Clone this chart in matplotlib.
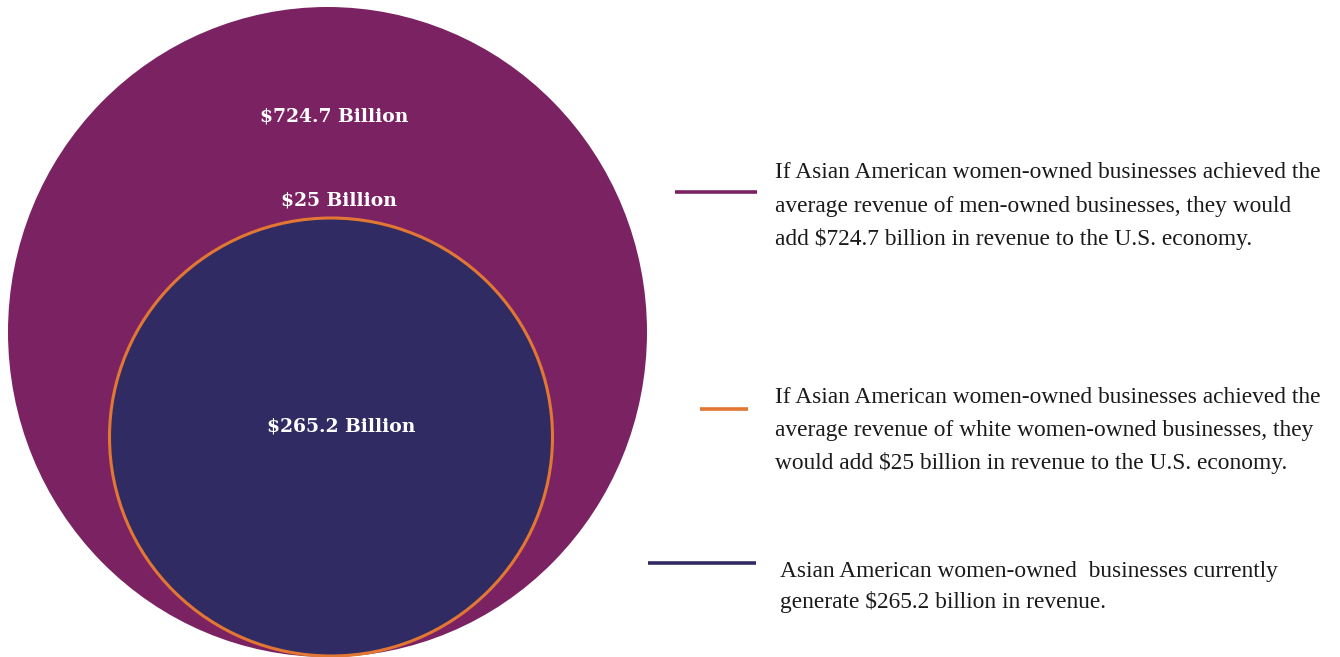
import matplotlib
matplotlib.use("Agg")
import matplotlib.pyplot as plt
from matplotlib.patches import Ellipse

# Data
series_names = ["Men-owned parity", "White women-owned parity", "Current revenue"]
values_billion = [724.7, 25, 265.2]
circle_labels = ["$724.7 Billion", "$25 Billion", "$265.2 Billion"]
descriptions = [
    ["If Asian American women-owned businesses achieved the",
     "average revenue of men-owned businesses, they would",
     "add $724.7 billion in revenue to the U.S. economy."],
    ["If Asian American women-owned businesses achieved the",
     "average revenue of white women-owned businesses, they",
     "would add $25 billion in revenue to the U.S. economy."],
    ["Asian American women-owned  businesses currently",
     "generate $265.2 billion in revenue."],
]
colors = ["#7B2262", "#E27733", "#312B63"]

W, H = 1340, 657
fig = plt.figure(figsize=(W / 100, H / 100), dpi=100)
ax = fig.add_axes([0, 0, 1, 1])
ax.set_xlim(0, W)
ax.set_ylim(H, 0)
ax.axis("off")

# Outer circle (purple)
ax.add_patch(Ellipse((327.5, 332), 639, 650, facecolor=colors[0], edgecolor="none", zorder=1))
# Inner circle (navy with orange edge)
ax.add_patch(Ellipse((331, 437), 443, 438, facecolor=colors[2], edgecolor=colors[1], lw=2.2, zorder=2))

label_font = dict(family="DejaVu Serif", weight="bold", color="white", fontsize=13.5,
                  ha="center", va="center", zorder=3)
ax.text(334, 116, circle_labels[0], **label_font)
ax.text(339, 201, circle_labels[1], **label_font)
ax.text(341, 426, circle_labels[2], **label_font)

# Legend lines
ax.plot([675, 757], [192, 192], color=colors[0], lw=2.6, solid_capstyle="butt")
ax.plot([700, 748], [409, 409], color=colors[1], lw=2.6, solid_capstyle="butt")
ax.plot([648, 756], [563, 563], color=colors[2], lw=2.6, solid_capstyle="butt")

desc_font = dict(family="Liberation Serif", color="#1a1a1a", fontsize=16.8,
                 ha="left", va="baseline")
baselines = [[178, 212, 245], [403, 436, 469], [577, 608]]
xs = [775, 775, 780]
for lines, bls, x in zip(descriptions, baselines, xs):
    for line, y in zip(lines, bls):
        ax.text(x, y, line, **desc_font)

fig.savefig("out.png", dpi=100)
